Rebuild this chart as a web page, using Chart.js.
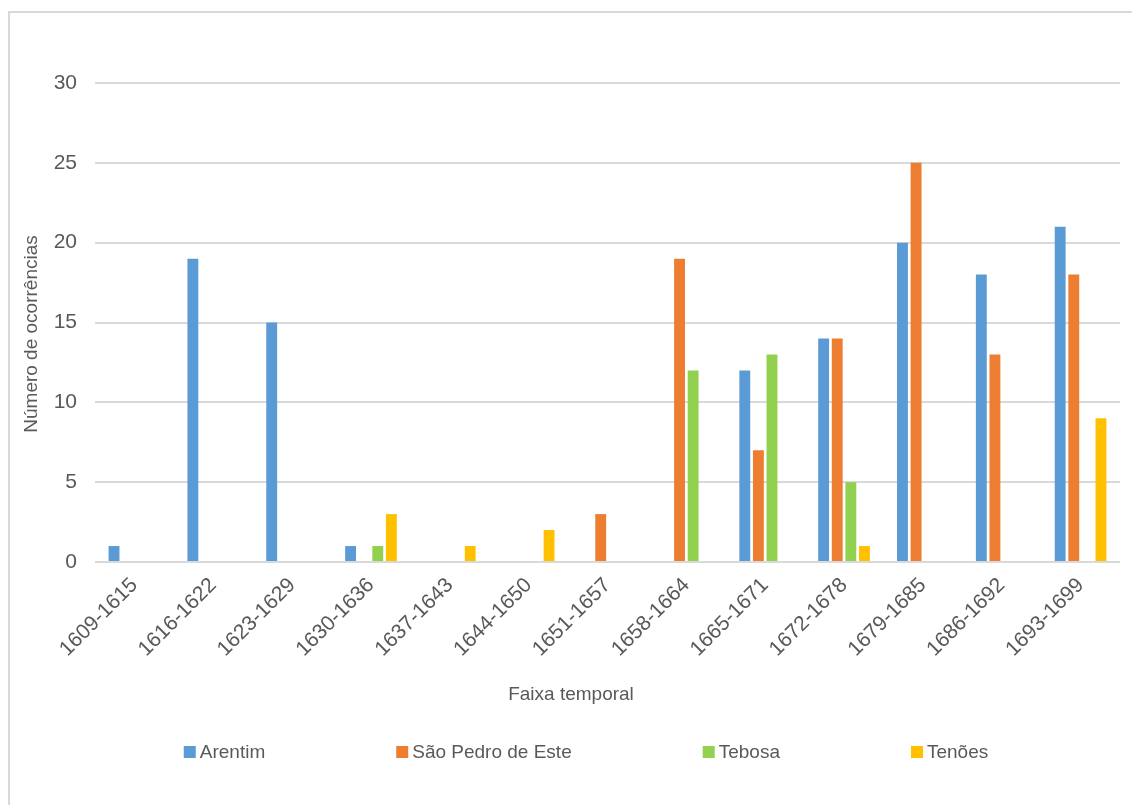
<!DOCTYPE html>
<html lang="pt">
<head>
<meta charset="utf-8">
<title>Número de ocorrências por faixa temporal</title>
<script src="https://cdn.jsdelivr.net/npm/chart.js@4.4.1/dist/chart.umd.min.js"></script>
<style>
  html, body { margin: 0; padding: 0; background: #fff; overflow: hidden; }
  .frame {
    position: absolute; left: 8px; top: 11px; width: 1200px; height: 900px;
    border-left: 2px solid #d9d9d9; border-top: 2px solid #d9d9d9;
  }
  .wrap { position: absolute; left: 0; top: 0; width: 1132px; height: 805px; }
</style>
</head>
<body>
<div class="frame"></div>
<div class="wrap"><canvas id="chartFaixas"></canvas></div>
<script>
(function () {
  const faixas = ['1609-1615', '1616-1622', '1623-1629', '1630-1636', '1637-1643', '1644-1650', '1651-1657',
                  '1658-1664', '1665-1671', '1672-1678', '1679-1685', '1686-1692', '1693-1699'];
  const arentim    = [1, 19, 15, 1, 0, 0, 0, 0, 12, 14, 20, 18, 21];
  const saoPedro   = [0, 0, 0, 0, 0, 0, 3, 19, 7, 14, 25, 13, 18];
  const tebosa     = [0, 0, 0, 1, 0, 0, 0, 12, 13, 5, 0, 0, 0];
  const tenoes     = [0, 0, 0, 3, 1, 2, 0, 0, 0, 1, 0, 0, 9];
  const yTicks     = [0, 5, 10, 15, 20, 25, 30];
  const xTitle = 'Faixa temporal';
  const yTitle = 'Número de ocorrências';

  const textColor = '#595959';
  const gridColor = '#d9d9d9';
  const fontFamily = '"Liberation Sans", Arial, sans-serif';

  const series = [
    { label: 'Arentim', data: arentim, color: '#5b9bd5' },
    { label: 'São Pedro de Este', data: saoPedro, color: '#ed7d31' },
    { label: 'Tebosa', data: tebosa, color: '#92d050' },
    { label: 'Tenões', data: tenoes, color: '#ffc000' }
  ];

  // Excel-style legend + axis captions (Excel doesn't center them on the plot area)
  const excelExtras = {
    id: 'excelExtras',
    afterDraw(chart, args, opts) {
      const ctx = chart.ctx;
      ctx.save();
      ctx.font = `${opts.size}px ${fontFamily}`;
      ctx.textBaseline = 'middle';
      ctx.fillStyle = textColor;

      // axis captions
      ctx.textAlign = 'center';
      ctx.fillText(xTitle, opts.xTitleAt[0], opts.xTitleAt[1]);
      ctx.save();
      ctx.translate(opts.yTitleAt[0], opts.yTitleAt[1]);
      ctx.rotate(-Math.PI / 2);
      ctx.fillText(yTitle, 0, 0);
      ctx.restore();

      // legend
      ctx.textAlign = 'left';
      const items = chart.data.datasets.map(ds => ({
        text: ds.label,
        color: ds.backgroundColor,
        w: ctx.measureText(ds.label).width
      }));
      const total = items.reduce((s, it) => s + opts.box + opts.textGap + it.w, 0) + opts.spacing * (items.length - 1);
      let x = (chart.width - total) / 2 + opts.shift;
      const y = chart.height - opts.fromBottom;
      items.forEach(it => {
        ctx.fillStyle = it.color;
        ctx.fillRect(x, y - opts.box / 2, opts.box, opts.box);
        ctx.fillStyle = textColor;
        ctx.fillText(it.text, x + opts.box + opts.textGap, y + 1);
        x += opts.box + opts.textGap + it.w + opts.spacing;
      });
      ctx.restore();
    }
  };

  new Chart(document.getElementById('chartFaixas'), {
    type: 'bar',
    data: {
      labels: faixas,
      datasets: series.map(s => ({
        label: s.label,
        data: s.data,
        backgroundColor: s.color,
        borderWidth: 0,
        categoryPercentage: 0.69,
        barPercentage: 0.8
      }))
    },
    plugins: [excelExtras],
    options: {
      responsive: true,
      maintainAspectRatio: false,
      animation: false,
      layout: { padding: { left: 30, right: 12, top: 83, bottom: 93 } },
      plugins: {
        tooltip: { enabled: false },
        legend: { display: false },
        excelExtras: {
          size: 19, box: 12, textGap: 4, spacing: 131, shift: 20, fromBottom: 53,
          xTitleAt: [571, 695], yTitleAt: [32, 334]
        }
      },
      scales: {
        x: {
          grid: { display: false },
          border: { display: false },
          ticks: {
            color: textColor,
            maxRotation: 45,
            minRotation: 45,
            autoSkip: false,
            padding: 3,
            font: { family: fontFamily, size: 21 }
          },
          afterFit: scale => { scale.height = 150; }
        },
        y: {
          min: 0,
          max: 30,
          afterBuildTicks: scale => { scale.ticks = yTicks.map(v => ({ value: v })); },
          grid: { color: gridColor, lineWidth: 2, drawTicks: false },
          border: { display: false },
          ticks: {
            color: textColor,
            padding: 18,
            font: { family: fontFamily, size: 21 }
          },
          afterFit: scale => { scale.width = 65; }
        }
      }
    }
  });
})();
</script>
</body>
</html>
